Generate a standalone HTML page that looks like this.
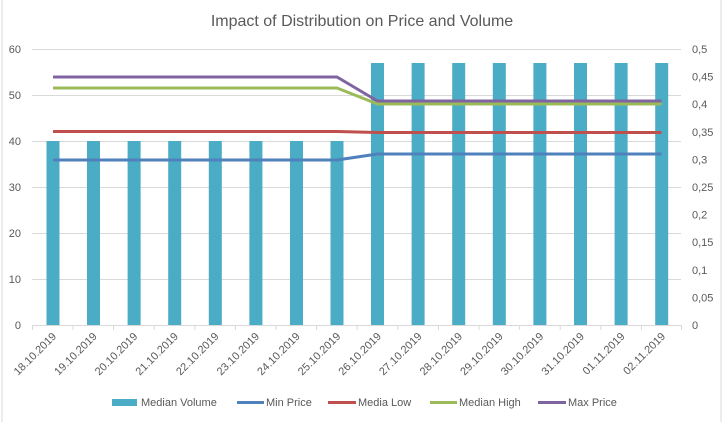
<!DOCTYPE html>
<html><head><meta charset="utf-8"><style>
body{margin:0;background:#fff;}
svg{display:block;font-family:"Liberation Sans",sans-serif;}
</style></head><body>
<svg width="723" height="422" viewBox="0 0 723 422">
<rect x="0" y="0" width="723" height="422" fill="#fff"/>
<line x1="2" y1="0" x2="2" y2="422" stroke="#d9d9d9"/>
<line x1="721" y1="0" x2="721" y2="422" stroke="#d9d9d9"/>
<text x="362" y="26" text-anchor="middle" font-size="16" fill="#595959">Impact of Distribution on Price and Volume</text>
<g stroke="#d9d9d9" stroke-width="1">
<line x1="32" x2="681" y1="49.5" y2="49.5"/>
<line x1="32" x2="681" y1="95.5" y2="95.5"/>
<line x1="32" x2="681" y1="141.5" y2="141.5"/>
<line x1="32" x2="681" y1="187.5" y2="187.5"/>
<line x1="32" x2="681" y1="233.5" y2="233.5"/>
<line x1="32" x2="681" y1="279.5" y2="279.5"/>
<line x1="32" x2="681" y1="325.5" y2="325.5"/>
</g>
<g font-size="11" fill="#595959" text-anchor="end">
<text x="21" y="53">60</text><text x="21" y="99">50</text><text x="21" y="145">40</text><text x="21" y="191">30</text><text x="21" y="237">20</text><text x="21" y="283">10</text><text x="21" y="329">0</text>
</g>
<g font-size="11" fill="#595959" text-anchor="start">
<text x="692" y="53">0,5</text><text x="692" y="80.6">0,45</text><text x="692" y="108.2">0,4</text><text x="692" y="135.8">0,35</text><text x="692" y="163.4">0,3</text><text x="692" y="191">0,25</text><text x="692" y="218.6">0,2</text><text x="692" y="246.2">0,15</text><text x="692" y="273.8">0,1</text><text x="692" y="301.4">0,05</text><text x="692" y="329">0</text>
</g>
<g fill="#4bacc6">
<rect x="46.5" y="141" width="13" height="184"/>
<rect x="87" y="141" width="13" height="184"/>
<rect x="127.6" y="141" width="13" height="184"/>
<rect x="168.2" y="141" width="13" height="184"/>
<rect x="208.8" y="141" width="13" height="184"/>
<rect x="249.4" y="141" width="13" height="184"/>
<rect x="290" y="141" width="13" height="184"/>
<rect x="330.5" y="141" width="13" height="184"/>
<rect x="371" y="63" width="13" height="262"/>
<rect x="411.6" y="63" width="13" height="262"/>
<rect x="452.2" y="63" width="13" height="262"/>
<rect x="492.8" y="63" width="13" height="262"/>
<rect x="533.4" y="63" width="13" height="262"/>
<rect x="574" y="63" width="13" height="262"/>
<rect x="614.6" y="63" width="13" height="262"/>
<rect x="655.2" y="63" width="13" height="262"/>
</g>
<g fill="none" stroke-width="3" stroke-linejoin="round">
<polyline stroke="#4f81bd" points="53,160 337,160 377.5,154 661.5,154"/>
<polyline stroke="#c0504d" points="53,131.5 337,131.5 377.5,132.5 661.5,132.5"/>
<polyline stroke="#9bbb59" points="53,88 337,88 377.5,104 661.5,104"/>
<polyline stroke="#8064a2" points="53,77 337,77 377.5,101 661.5,101"/>
</g>
<g stroke="#d9d9d9">
<line x1="32.5" y1="325" x2="32.5" y2="330"/><line x1="73" y1="325" x2="73" y2="330"/><line x1="113.6" y1="325" x2="113.6" y2="330"/><line x1="154.2" y1="325" x2="154.2" y2="330"/><line x1="194.8" y1="325" x2="194.8" y2="330"/><line x1="235.4" y1="325" x2="235.4" y2="330"/><line x1="276" y1="325" x2="276" y2="330"/><line x1="316.6" y1="325" x2="316.6" y2="330"/><line x1="357.2" y1="325" x2="357.2" y2="330"/><line x1="397.8" y1="325" x2="397.8" y2="330"/><line x1="438.4" y1="325" x2="438.4" y2="330"/><line x1="479" y1="325" x2="479" y2="330"/><line x1="519.6" y1="325" x2="519.6" y2="330"/><line x1="560.2" y1="325" x2="560.2" y2="330"/><line x1="600.8" y1="325" x2="600.8" y2="330"/><line x1="641.4" y1="325" x2="641.4" y2="330"/><line x1="681.5" y1="325" x2="681.5" y2="330"/>
</g>
<g font-size="11" fill="#595959" text-anchor="end">
<text transform="translate(57,337) rotate(-45)">18.10.2019</text>
<text transform="translate(97.6,337) rotate(-45)">19.10.2019</text>
<text transform="translate(138.2,337) rotate(-45)">20.10.2019</text>
<text transform="translate(178.8,337) rotate(-45)">21.10.2019</text>
<text transform="translate(219.4,337) rotate(-45)">22.10.2019</text>
<text transform="translate(260,337) rotate(-45)">23.10.2019</text>
<text transform="translate(300.6,337) rotate(-45)">24.10.2019</text>
<text transform="translate(341.2,337) rotate(-45)">25.10.2019</text>
<text transform="translate(381.8,337) rotate(-45)">26.10.2019</text>
<text transform="translate(422.4,337) rotate(-45)">27.10.2019</text>
<text transform="translate(463,337) rotate(-45)">28.10.2019</text>
<text transform="translate(503.6,337) rotate(-45)">29.10.2019</text>
<text transform="translate(544.2,337) rotate(-45)">30.10.2019</text>
<text transform="translate(584.8,337) rotate(-45)">31.10.2019</text>
<text transform="translate(625.4,337) rotate(-45)">01.11.2019</text>
<text transform="translate(666,337) rotate(-45)">02.11.2019</text>
</g>
<g font-size="11" fill="#595959">
<rect x="112" y="399" width="25" height="7" fill="#4bacc6"/>
<text x="141" y="406">Median Volume</text>
<line x1="237" y1="402.5" x2="264" y2="402.5" stroke="#4f81bd" stroke-width="3"/>
<text x="266" y="406">Min Price</text>
<line x1="328" y1="402.5" x2="356" y2="402.5" stroke="#c0504d" stroke-width="3"/>
<text x="358" y="406">Media Low</text>
<line x1="430" y1="402.5" x2="457" y2="402.5" stroke="#9bbb59" stroke-width="3"/>
<text x="459" y="406">Median High</text>
<line x1="538" y1="402.5" x2="566" y2="402.5" stroke="#8064a2" stroke-width="3"/>
<text x="568" y="406">Max Price</text>
</g>
</svg>
</body></html>
